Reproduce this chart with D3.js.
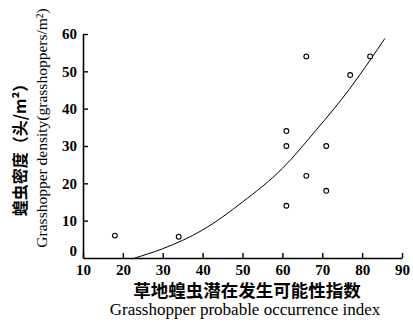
<!DOCTYPE html>
<html>
<head>
<meta charset="utf-8">
<script src="https://cdn.jsdelivr.net/npm/d3@7"></script>
<style>
  body { margin: 0; background: #fff; }
  svg text { fill: #000; }
</style>
</head>
<body>
<svg width="413" height="323"></svg>
<script>
// observed points
var pointX = [18, 34, 61, 61, 61, 66, 66, 71, 71, 77, 82]
var pointY = [6, 5.7, 14, 30, 34, 54, 22, 30, 18, 49, 54]

// fitted curve
var curveX = [23, 30, 40, 50, 60, 68.5, 77, 82, 85.7]
var curveY = [0, 2.5, 7.5, 15, 24, 34.3, 45.5, 53, 58.8]

var xTicks = [10, 20, 30, 40, 50, 60, 70, 80, 90]
var yTicks = [0, 10, 20, 30, 40, 50, 60]

var svg = d3.select('svg')

var x = d3.scaleLinear().domain([10, 90]).range([83, 402])
var y = d3.scaleLinear().domain([0, 60]).range([258, 34])

var serif = '"Liberation Serif", "DejaVu Serif", serif'
var cjk = '"Noto Sans CJK SC", sans-serif'

// x axis, ticks point inward
var xAxis = svg.append('g')
    .attr('transform', 'translate(0,' + y(0) + ')')
    .call(d3.axisBottom(x).tickValues(xTicks).tickSizeInner(-5).tickSizeOuter(0).tickPadding(6))
xAxis.select('.domain').attr('stroke', '#000').attr('stroke-width', 1.6)
xAxis.selectAll('.tick line').attr('stroke-width', 1.4)
xAxis.selectAll('text')
    .style('font-family', serif).style('font-weight', 'bold').style('font-size', '15px')

var yAxis = svg.append('g')
    .attr('transform', 'translate(' + x(10) + ',0)')
    .call(d3.axisLeft(y).tickValues(yTicks).tickSizeInner(-5).tickSizeOuter(0).tickPadding(6))
yAxis.select('.domain').attr('stroke', '#000').attr('stroke-width', 1.6)
yAxis.selectAll('.tick line').attr('stroke-width', 1.4)
yAxis.selectAll('.tick').filter(function (d) { return d === 0 }).select('line').remove()
yAxis.selectAll('text')
    .style('font-family', serif).style('font-weight', 'bold').style('font-size', '15px')
    .attr('dy', function (d) { return d === 0 ? '-0.2em' : '0.32em' })

// curve
var line = d3.line()
    .x(function (d, i) { return x(curveX[i]) })
    .y(function (d) { return y(d) })
    .curve(d3.curveMonotoneX)

svg.append('path')
    .datum(curveY)
    .attr('d', line)
    .attr('fill', 'none')
    .attr('stroke', '#000')
    .attr('stroke-width', 1)

// points
svg.selectAll('circle')
    .data(pointX)
    .enter()
    .append('circle')
    .attr('cx', function (d) { return x(d) })
    .attr('cy', function (d, i) { return y(pointY[i]) })
    .attr('r', 2.4)
    .attr('fill', '#fff')
    .attr('stroke', '#000')
    .attr('stroke-width', 1.1)

// axis titles
svg.append('text')
    .attr('x', 247).attr('y', 297)
    .attr('text-anchor', 'middle')
    .style('font-family', cjk).style('font-weight', 'bold').style('font-size', '17.5px')
    .text('草地蝗虫潜在发生可能性指数')

svg.append('text')
    .attr('x', 245).attr('y', 315)
    .attr('text-anchor', 'middle')
    .style('font-family', serif).style('font-size', '17px')
    .text('Grasshopper probable occurrence index')

svg.append('text')
    .attr('transform', 'translate(26,146) rotate(-90)')
    .attr('text-anchor', 'middle')
    .style('font-family', cjk).style('font-weight', 'bold').style('font-size', '16px')
    .text('蝗虫密度（头/m²）')

svg.append('text')
    .attr('transform', 'translate(47,128) rotate(-90)')
    .attr('text-anchor', 'middle')
    .style('font-family', serif).style('font-size', '15.5px')
    .text('Grasshopper density(grasshoppers/m²)')
</script>
</body>
</html>
